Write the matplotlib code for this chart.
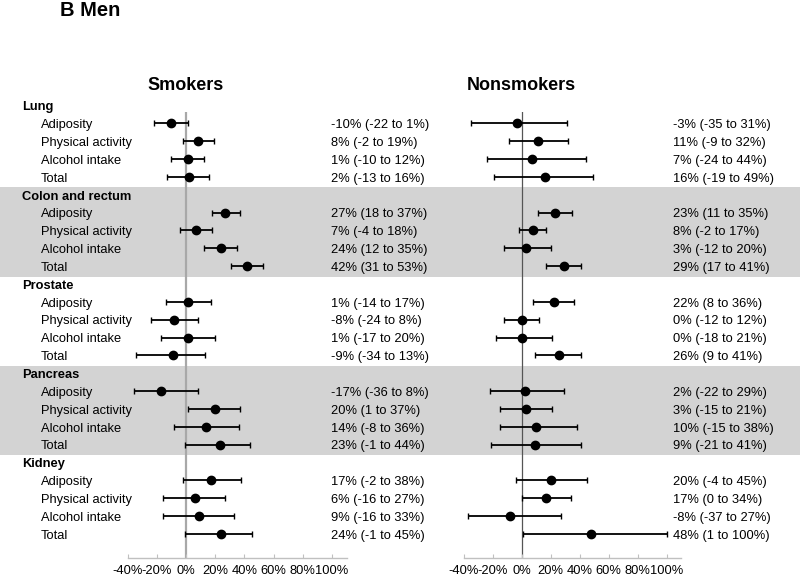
import numpy as np
import matplotlib
matplotlib.use('Agg')
import matplotlib.pyplot as plt
from matplotlib.ticker import FixedLocator

plt.rcParams['font.family'] = ['Liberation Sans', 'DejaVu Sans']

# Data
cancers = ['Lung', 'Colon and rectum', 'Prostate', 'Pancreas', 'Kidney']
factors = ['Adiposity', 'Physical activity', 'Alcohol intake', 'Total']
shaded = ['Colon and rectum', 'Pancreas']

smk_est = [-10, 8, 1, 2, 27, 7, 24, 42, 1, -8, 1, -9, -17, 20, 14, 23, 17, 6, 9, 24]
smk_lo = [-22, -2, -10, -13, 18, -4, 12, 31, -14, -24, -17, -34, -36, 1, -8, -1, -2, -16, -16, -1]
smk_hi = [1, 19, 12, 16, 37, 18, 35, 53, 17, 8, 20, 13, 8, 37, 36, 44, 38, 27, 33, 45]

non_est = [-3, 11, 7, 16, 23, 8, 3, 29, 22, 0, 0, 26, 2, 3, 10, 9, 20, 17, -8, 48]
non_lo = [-35, -9, -24, -19, 11, -2, -12, 17, 8, -12, -18, 9, -22, -15, -15, -21, -4, 0, -37, 1]
non_hi = [31, 32, 44, 49, 35, 17, 20, 41, 36, 12, 21, 41, 29, 21, 38, 41, 45, 34, 27, 100]

xticks = [-40, -20, 0, 20, 40, 60, 80, 100]
xtick_labels = ['-40%', '-20%', '0%', '20%', '40%', '60%', '80%', '100%']

W, H = 800, 578
ROW0, DROW = 105.5, 17.85  # pixel y of first row, row spacing
TXT_DY = 0.1  # text sits a touch below the markers


def pix_to_row(py):
    return (py - ROW0) / DROW


fig = plt.figure(figsize=(W / 100, H / 100), dpi=100)

# background layer: bands and labels, x in pixels, y in rows
bg = fig.add_axes([0, 0, 1, 1])
bg.set_xlim(0, W)
bg.set_ylim(pix_to_row(H), pix_to_row(0))
bg.axis('off')

rows = []
r = 0
for c in cancers:
    if c in shaded:
        bg.axhspan(r - 0.42, r + 4.58, color='#d3d3d3', lw=0, zorder=0)
    bg.text(21.7, r + TXT_DY, c, fontsize=9.3, fontweight='bold', va='center', ha='left')
    r += 1
    for f in factors:
        bg.text(40.7, r + TXT_DY, f, fontsize=9.3, va='center', ha='left')
        rows.append(r)
        r += 1
rows = np.array(rows)

fig.text(60 / W, 1 - 16 / H, 'B Men', fontsize=14.5, fontweight='bold',
         va='baseline', ha='left')


def forest(x0, x1, est, lo, hi, title, txt_x, zcolor, zlw):
    # x0, x1: pixel positions of -40% and 110%
    ybot = pix_to_row(558)
    ytop = pix_to_row(112)
    ax = fig.add_axes([x0 / W, 1 - 558 / H, (x1 - x0) / W, (558 - 112) / H])
    ax.patch.set_alpha(0)
    ax.set_xlim(-40, 110)
    ax.set_ylim(ybot, ytop)
    est = np.array(est)
    lo = np.array(lo)
    hi = np.array(hi)
    ax.axvline(0, color=zcolor, lw=zlw, zorder=1)
    ax.errorbar(est, rows, xerr=[est - lo, hi - est], fmt='o', color='black',
                ms=6, elinewidth=1.3, capsize=2.5, capthick=1.0, zorder=3)
    for s in ['top', 'right', 'left']:
        ax.spines[s].set_visible(False)
    ax.spines['bottom'].set_color('#c0c0c0')
    ax.spines['bottom'].set_linewidth(1.0)
    ax.set_yticks([])
    ax.xaxis.set_major_locator(FixedLocator(xticks))
    ax.set_xticklabels(xtick_labels, fontsize=9.3)
    ax.tick_params(axis='x', direction='in', length=3, color='#c0c0c0', pad=5)
    zero_px = x0 + 40 * (x1 - x0) / 150
    fig.text(zero_px / W, 1 - 85 / H, title, fontsize=13, fontweight='bold',
             ha='center', va='center')
    for yy, e, l, h in zip(rows, est, lo, hi):
        bg.text(txt_x, yy + TXT_DY, f'{e}% ({l} to {h}%)', fontsize=9.3,
                va='center', ha='left')
    return ax


forest(127.7, 346.5, smk_est, smk_lo, smk_hi, 'Smokers', 331, '#a8a8a8', 1.6)
forest(463.7, 681.2, non_est, non_lo, non_hi, 'Nonsmokers', 673, '#555555', 0.9)

fig.savefig('out.png', dpi=100)
